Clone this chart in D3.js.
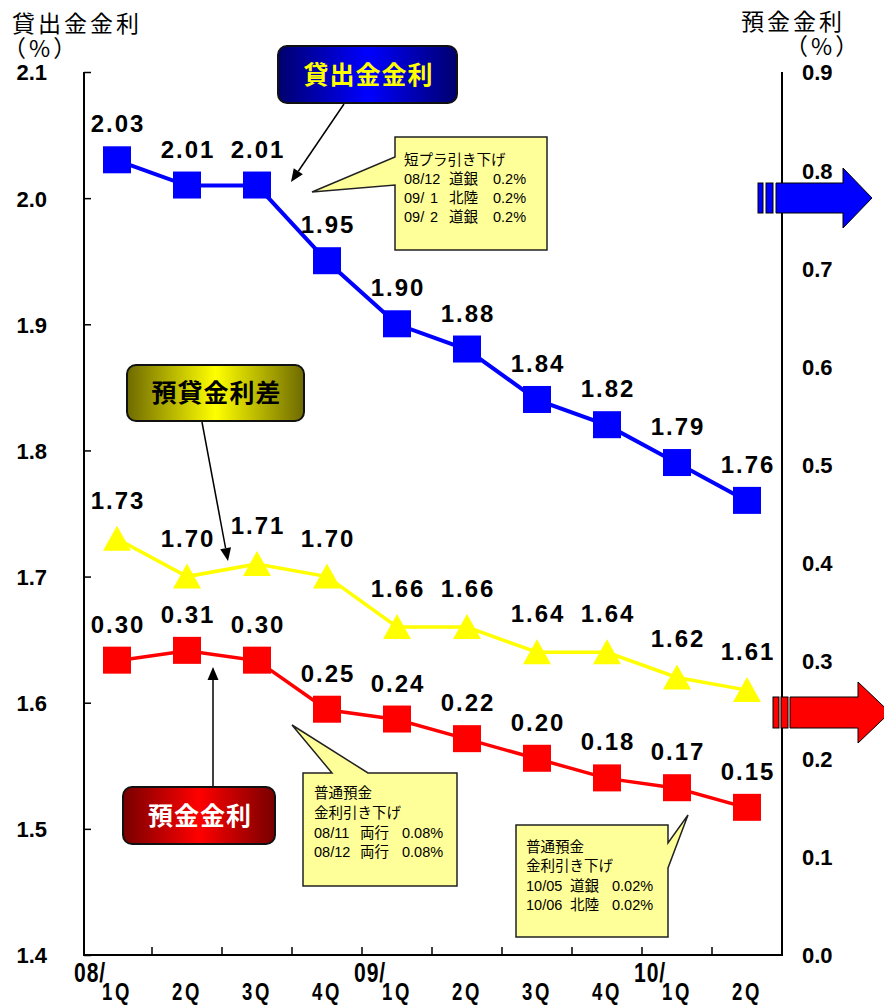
<!DOCTYPE html>
<html>
<head>
<meta charset="utf-8">
<script src="https://cdn.jsdelivr.net/npm/d3@7"></script>
<style>
  html, body { margin: 0; padding: 0; background: #fff; }
  svg { display: block; }
  text { white-space: pre; }
</style>
</head>
<body>
<div id="chart"></div>
<script>
// Quarterly categories and their year prefixes
const quarters = ["1Q", "2Q", "3Q", "4Q", "1Q", "2Q", "3Q", "4Q", "1Q", "2Q"];
const yearMarks = ["08/", "", "", "", "09/", "", "", "", "10/", ""];

// Lending rate (left axis, %)
const lendingRate = [2.03, 2.01, 2.01, 1.95, 1.90, 1.88, 1.84, 1.82, 1.79, 1.76];
// Lending–deposit spread (left axis, %)
const spreadRate = [1.73, 1.70, 1.71, 1.70, 1.66, 1.66, 1.64, 1.64, 1.62, 1.61];
// Deposit rate (right axis, %)
const depositRate = [0.30, 0.31, 0.30, 0.25, 0.24, 0.22, 0.20, 0.18, 0.17, 0.15];

// Axis tick values
const leftTicks = [1.4, 1.5, 1.6, 1.7, 1.8, 1.9, 2.0, 2.1];
const rightTicks = [0.0, 0.1, 0.2, 0.3, 0.4, 0.5, 0.6, 0.7, 0.8, 0.9];

// Callout notes
const primeNote = ["短プラ引き下げ", ["08/12", "道銀", "0.2%"], ["09/", "1", "北陸", "0.2%"], ["09/", "2", "道銀", "0.2%"]];
const depositNote1 = ["普通預金", "金利引き下げ", ["08/11", "両行", "0.08%"], ["08/12", "両行", "0.08%"]];
const depositNote2 = ["普通預金", "金利引き下げ", ["10/05", "道銀", "0.02%"], ["10/06", "北陸", "0.02%"]];

const W = 884, H = 1005;
const plot = { left: 84, right: 782, top: 72, bottom: 955 };

const svg = d3.select("#chart").append("svg").attr("width", W).attr("height", H);
const defs = svg.append("defs");

const x = d3.scalePoint().domain(d3.range(quarters.length)).range([117, 747]);
const yL = d3.scaleLinear().domain([1.4, 2.1]).range([plot.bottom, plot.top]);
const yR = d3.scaleLinear().domain([0, 0.9]).range([plot.bottom, plot.top]);

const numFont = "'Liberation Sans', Arial, sans-serif";
const jpFont = "'Noto Sans CJK JP', 'Noto Sans', sans-serif";
const noteFont = "'Liberation Sans', 'Noto Sans CJK JP', sans-serif";

// Gradients for the series name badges
function hGrad(id, edge, mid) {
  const g = defs.append("linearGradient").attr("id", id).attr("x1", "0").attr("x2", "1").attr("y1", "0").attr("y2", "0");
  g.append("stop").attr("offset", "0%").attr("stop-color", edge);
  g.append("stop").attr("offset", "50%").attr("stop-color", mid);
  g.append("stop").attr("offset", "100%").attr("stop-color", edge);
}
hGrad("gBlue", "#00006e", "#0000ff");
hGrad("gOlive", "#6e6a00", "#ffff00");
hGrad("gRed", "#780000", "#ff0000");

// ---- Axes ----
const axisColor = "#000";

// Left axis: inward ticks
const leftAxis = svg.append("g").attr("transform", `translate(${plot.left},0)`)
  .call(d3.axisRight(yL).tickValues(leftTicks).tickSize(7).tickFormat(""));
leftAxis.select(".domain").remove();
leftAxis.selectAll("line").attr("stroke", axisColor).attr("stroke-width", 1.5);

// Left axis labels
const leftLabels = svg.append("g").attr("transform", `translate(${plot.left},0)`)
  .call(d3.axisLeft(yL).tickValues(leftTicks).tickSize(0).tickPadding(37).tickFormat(d3.format(".1f")));
leftLabels.select(".domain").remove();
leftLabels.selectAll("text")
  .attr("font-family", numFont).attr("font-weight", "bold").attr("font-size", 22)
  .attr("fill", "#000").attr("dy", "0.36em");

// Right axis labels
const rightLabels = svg.append("g").attr("transform", `translate(${plot.right},0)`)
  .call(d3.axisRight(yR).tickValues(rightTicks).tickSize(0).tickPadding(20).tickFormat(d3.format(".1f")));
rightLabels.select(".domain").remove();
rightLabels.selectAll("text")
  .attr("font-family", numFont).attr("font-weight", "bold").attr("font-size", 22)
  .attr("fill", "#000").attr("dy", "0.36em");

// Axis lines
svg.append("line").attr("x1", plot.left).attr("x2", plot.left).attr("y1", plot.top).attr("y2", plot.bottom)
  .attr("stroke", axisColor).attr("stroke-width", 2);
svg.append("line").attr("x1", plot.right).attr("x2", plot.right).attr("y1", plot.top).attr("y2", plot.bottom)
  .attr("stroke", axisColor).attr("stroke-width", 2);
svg.append("line").attr("x1", plot.left - 1).attr("x2", plot.right + 1).attr("y1", plot.bottom).attr("y2", plot.bottom)
  .attr("stroke", axisColor).attr("stroke-width", 2);

// Category separators on the bottom axis (inward)
const step = x.step();
const sepIdx = d3.range(1, quarters.length);
svg.append("g").selectAll("line").data(sepIdx).join("line")
  .attr("x1", i => x(i) - step / 2).attr("x2", i => x(i) - step / 2)
  .attr("y1", plot.bottom).attr("y2", plot.bottom - 8)
  .attr("stroke", axisColor).attr("stroke-width", 1.5);

// Category labels (condensed, tall bold lettering)
const catFont = "'Liberation Sans', Arial, sans-serif";
svg.append("g").selectAll("text").data(quarters).join("text")
  .attr("transform", (d, i) => `translate(${x(i)},1000) scale(0.88,1.12)`)
  .attr("text-anchor", "middle")
  .attr("font-family", catFont).attr("font-weight", "bold").attr("font-size", 21)
  .attr("letter-spacing", 3)
  .text(d => d);
svg.append("g").selectAll("text").data(yearMarks).join("text")
  .attr("transform", (d, i) => `translate(${x(i) - 11},982) scale(0.88,1.12)`)
  .attr("text-anchor", "end")
  .attr("font-family", catFont).attr("font-weight", "bold").attr("font-size", 24)
  .attr("letter-spacing", 1)
  .text(d => d);

// Axis titles
function title(txt, xPos, yPos, anchor) {
  svg.append("text").attr("x", xPos).attr("y", yPos).attr("text-anchor", anchor)
    .attr("font-family", jpFont).attr("font-size", 23).attr("letter-spacing", 3).attr("fill", "#000")
    .text(txt);
}
title("貸出金金利", 12, 32, "start");
title("（%）", 3, 57, "start");
title("預金金利", 741, 30, "start");
title("（%）", 785, 55, "start");

// ---- Series ----
const lineLeft = d3.line().x((d, i) => x(i)).y(d => yL(d));
const lineRight = d3.line().x((d, i) => x(i)).y(d => yR(d));

svg.append("path").datum(spreadRate).attr("d", lineLeft)
  .attr("fill", "none").attr("stroke", "#ffff00").attr("stroke-width", 3.5);
svg.append("path").datum(depositRate).attr("d", lineRight)
  .attr("fill", "none").attr("stroke", "#ff0000").attr("stroke-width", 3.5);
svg.append("path").datum(lendingRate).attr("d", lineLeft)
  .attr("fill", "none").attr("stroke", "#0000ff").attr("stroke-width", 4);

const sq = 28;
svg.append("g").selectAll("rect").data(lendingRate).join("rect")
  .attr("x", (d, i) => x(i) - sq / 2).attr("y", d => yL(d) - sq / 2)
  .attr("width", sq).attr("height", sq - 1).attr("fill", "#0000ff");
svg.append("g").selectAll("rect").data(depositRate).join("rect")
  .attr("x", (d, i) => x(i) - sq / 2).attr("y", d => yR(d) - sq / 2)
  .attr("width", sq).attr("height", sq - 1).attr("fill", "#ff0000");
svg.append("g").selectAll("path").data(spreadRate).join("path")
  .attr("transform", (d, i) => `translate(${x(i)},${yL(d)})`)
  .attr("d", "M0,-13 L14,12 L-14,12 Z").attr("fill", "#ffff00");

// Value labels
function valueLabels(data, scale, dy) {
  svg.append("g").selectAll("text").data(data).join("text")
    .attr("x", (d, i) => x(i) + 1).attr("y", d => scale(d) + dy)
    .attr("text-anchor", "middle")
    .attr("font-family", numFont).attr("font-weight", "bold").attr("font-size", 24)
    .attr("letter-spacing", 2).attr("fill", "#000")
    .text(d => d3.format(".2f")(d));
}
valueLabels(lendingRate, yL, -28);
valueLabels(spreadRate, yL, -30);
valueLabels(depositRate, yR, -28);

// ---- Annotations ----
function arrow(x1, y1, x2, y2) {
  const ang = Math.atan2(y2 - y1, x2 - x1);
  const len = 13, half = 5.5;
  const bx = x2 - len * Math.cos(ang), by = y2 - len * Math.sin(ang);
  svg.append("line").attr("x1", x1).attr("y1", y1).attr("x2", bx).attr("y2", by)
    .attr("stroke", "#000").attr("stroke-width", 1.5);
  const px = -Math.sin(ang) * half, py = Math.cos(ang) * half;
  svg.append("path")
    .attr("d", `M${x2},${y2} L${bx + px},${by + py} L${bx - px},${by - py} Z`)
    .attr("fill", "#000");
}

function badge(x0, y0, w, h, grad, label, color) {
  svg.append("rect").attr("x", x0).attr("y", y0).attr("width", w).attr("height", h)
    .attr("rx", 9).attr("fill", `url(#${grad})`).attr("stroke", "#111").attr("stroke-width", 2);
  svg.append("text").attr("x", x0 + w / 2 + 1).attr("y", y0 + h / 2 + 9)
    .attr("text-anchor", "middle")
    .attr("font-family", jpFont).attr("font-weight", "bold").attr("font-size", 25)
    .attr("letter-spacing", 1).attr("fill", color).text(label);
}

arrow(344, 104, 291, 182);
badge(278, 46, 179, 57, "gBlue", "貸出金金利", "#ffff00");

arrow(202, 422, 228, 561);
badge(127, 365, 177, 56, "gOlive", "預貸金利差", "#000");

arrow(213, 787, 213, 667);
badge(123, 787, 152, 57, "gRed", "預金金利", "#fff");

function callout(pathD, lines, x0, baselines, cols) {
  svg.append("path").attr("d", pathD)
    .attr("fill", "#ffff99").attr("stroke", "#222").attr("stroke-width", 1.5);
  const g = svg.append("g").attr("font-family", noteFont).attr("font-size", 14.5).attr("fill", "#000");
  lines.forEach((ln, k) => {
    const t = g.append("text").attr("y", baselines[k]);
    if (typeof ln === "string") {
      t.attr("x", x0).text(ln);
    } else {
      const cx = cols[ln.length];
      ln.forEach((part, j) => t.append("tspan").attr("x", x0 + cx[j]).text(part));
    }
  });
}

callout("M395,137 H547 V250 H395 V185 L312,192 L395,157 Z", primeNote, 404, [165, 184, 203, 222],
  { 3: [0, 45, 89], 4: [0, 26, 45, 89] });
callout("M303,773 H332 L292,725 L368,773 H457 V886 H303 Z", depositNote1, 314, [798, 818, 838, 857],
  { 3: [0, 46, 88] });
callout("M516,825 H668 V843 L688,815 L668,868 V937 H516 Z", depositNote2, 526, [852, 871, 891, 910],
  { 3: [0, 44, 86] });

// Right-side direction arrows
function sideArrow(bars, xs, xh, xt, yTop, yBot, yHeadTop, yHeadBot, fill) {
  const g = svg.append("g").attr("fill", fill).attr("stroke", "#000").attr("stroke-width", 1);
  bars.forEach(b => g.append("rect").attr("x", b[0]).attr("y", yTop).attr("width", b[1]).attr("height", yBot - yTop));
  const yMid = (yHeadTop + yHeadBot) / 2;
  g.append("path").attr("d",
    `M${xs},${yTop} H${xh} V${yHeadTop} L${xt},${yMid} L${xh},${yHeadBot} V${yBot} H${xs} Z`);
}
sideArrow([[758, 5], [766, 7]], 776, 843, 872, 183, 213, 168, 228, "#0000ff");
sideArrow([[773, 6], [781, 7]], 790, 858, 890, 697, 728, 682, 743, "#ff0000");
</script>
</body>
</html>
